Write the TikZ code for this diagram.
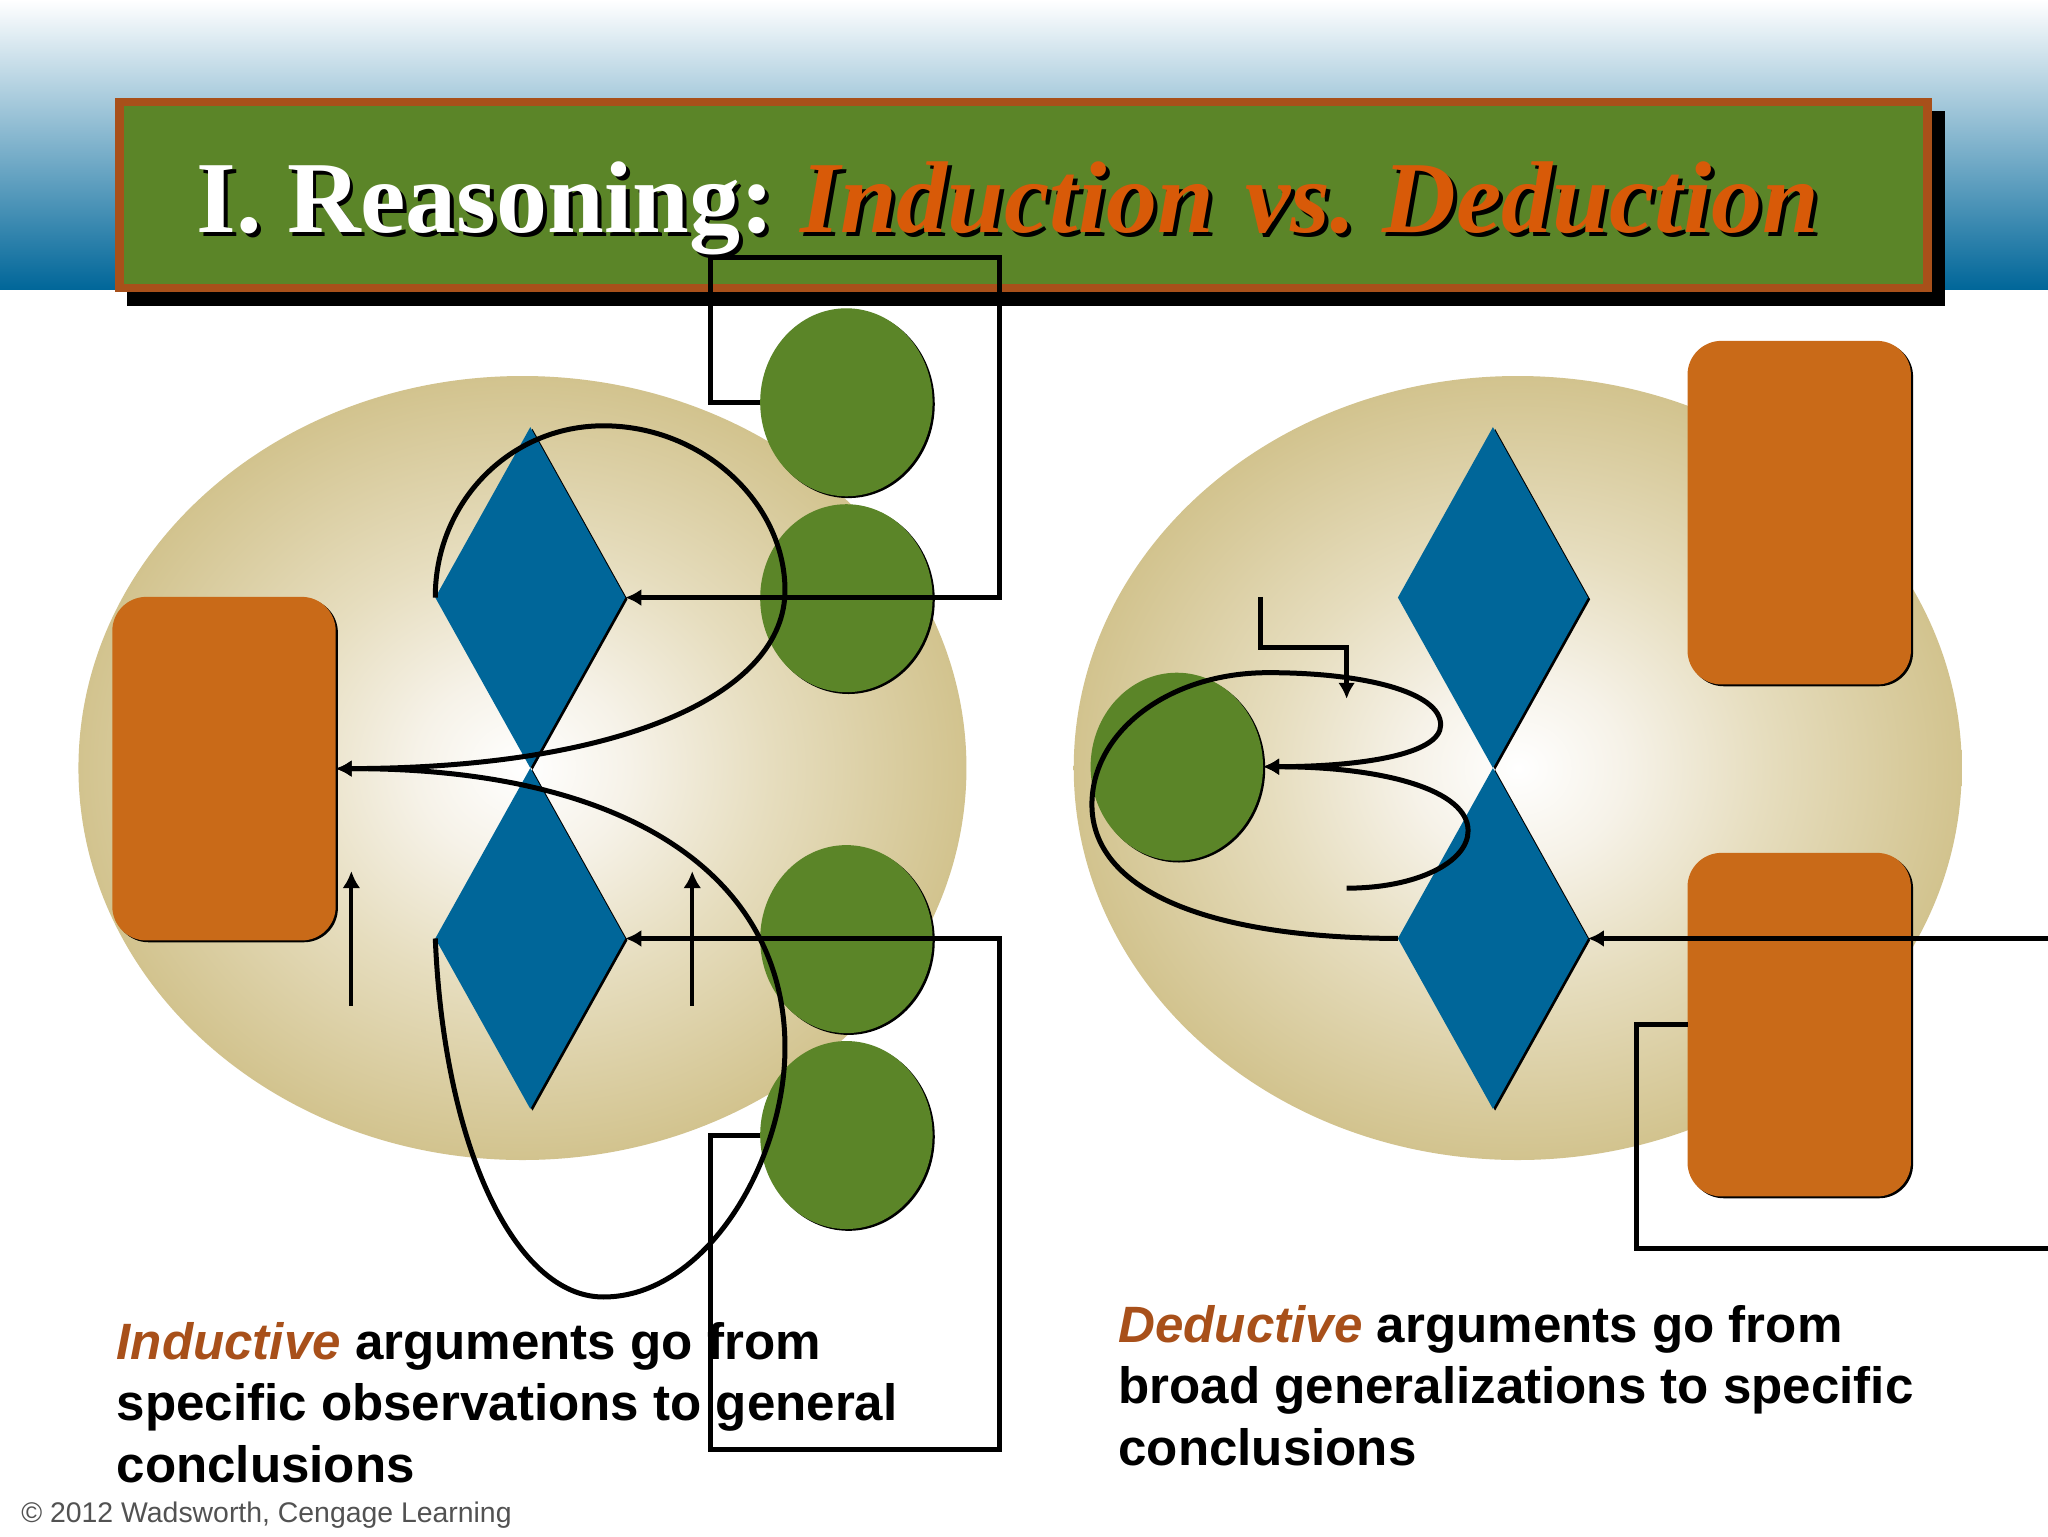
\documentclass[tikz,border=0pt]{standalone}
\usepackage{fontspec}
\setmainfont{Liberation Sans}
\newfontfamily\serifttl{Liberation Serif}
\usetikzlibrary{shapes.geometric,shadows,arrows.meta}
\definecolor{grn}{HTML}{5B8528}
\definecolor{rust}{HTML}{A8501A}
\definecolor{ttlorange}{HTML}{D85A08}
\definecolor{bluefill}{HTML}{006699}
\definecolor{orangefill}{HTML}{C96A18}
\definecolor{sand}{HTML}{D2C38E}
\definecolor{sandmid}{HTML}{E6DDBE}
\definecolor{sandlow}{HTML}{F6F2E8}
\pgfdeclareradialshading{sandglow}{\pgfpointorigin}{color(0bp)=(white); color(6bp)=(sandlow); color(14bp)=(sandmid); color(25bp)=(sand); color(50bp)=(sand)}
\newcommand{\shadowed}[2]{\leavevmode\rlap{\kern2pt\raisebox{-2pt}{\color{black}#2}}{\color{#1}#2}}
\tikzset{
  x=0.65306pt,y=-0.65306pt,
  thinshadow/.style={general shadow={shadow xshift=1.1pt,shadow yshift=-0.9pt,fill=black}},
  glow/.style={ellipse,inner sep=0pt,outer sep=0pt,minimum width=444pt,minimum height=392pt,shading=sandglow},
  circ/.style={ellipse,inner sep=0pt,outer sep=0pt,minimum width=86.2pt,minimum height=94pt,fill=grn,thinshadow},
  gem/.style={diamond,inner sep=0pt,outer sep=0pt,minimum width=95pt,minimum height=170.4pt,fill=bluefill,thinshadow},
  block/.style={rectangle,transform shape,xscale=0.73,rounded corners=17pt,inner sep=0pt,outer sep=0pt,minimum width=153pt,minimum height=171.8pt,fill=orangefill,thinshadow},
  wire/.style={line width=2.5pt,black},
  wirearrow/.style={wire,-{Latex[length=8pt,width=8.5pt]}},
  thinarrow/.style={line width=2.1pt,black,-{Latex[length=8.5pt,width=9pt]}},
  ttl/.style={anchor=base west,inner sep=0pt,font=\serifttl\bfseries\fontsize{51}{60}\selectfont},
  body/.style={anchor=north west,inner sep=0pt,align=left,font=\bfseries\fontsize{25.55}{30.7}\selectfont},
}
\begin{document}
\begin{tikzpicture}
\useasboundingbox (0,0) rectangle (1568,1176);
\clip (0,0) rectangle (1568,1176);
\fill[white] (0,0) rectangle (1568,1176);
\shade[top color=white,bottom color=bluefill] (0,0) rectangle (1568,222);
% banner
\fill[black] (97,85) rectangle (1489,234);
\node[rectangle,draw=rust,line width=4.2pt,fill=grn,inner sep=0pt,outer sep=0pt,minimum width=904pt,minimum height=93pt] (banner) at (783.5,149.5) {};
% title
\node[ttl] (title) at (150,178) {\shadowed{white}{I. Reasoning:}\hspace{-4pt} \shadowed{ttlorange}{\itshape Induction\hspace{3pt} vs.\hspace{-3.7pt} Deduction}};
% backdrops
\node[glow] (glowL) at (400,588) {};
\node[glow] (glowR) at (1162,588) {};
% diamonds
\node[gem] (dA) at (406,457.5) {};
\node[gem] (dB) at (406,718.5) {};
\node[gem] (dC) at (1143,457.5) {};
\node[gem] (dD) at (1143,718.5) {};
% circles
\node[circ] (cA) at (648,308) {};
\node[circ] (cB) at (648,458) {};
\node[circ] (cC) at (648,719) {};
\node[circ] (cD) at (648,869) {};
\node[circ] (cE) at (901,587) {};
% blocks
\node[block] (bL) at (171.5,588.5) {};
\node[block] (bR) at (1377.5,392.5) {};
\node[block] (bS) at (1377.5,784.5) {};
% free ends
\coordinate (a1) at (269,770); \coordinate (a2) at (269,667);
\coordinate (a3) at (530,770); \coordinate (a4) at (530,667);
\coordinate (e1) at (965,457); \coordinate (e2) at (1031,535);
\coordinate (f1) at (1031,680);
\coordinate (g1) at (1575,718.5); \coordinate (g2) at (1575,956);
% left connectors
\draw[wirearrow] (cA.west) -- (544,308) -- (544,197) -- (765,197) -- (765,457.5) -- (dA.east);
\draw[wirearrow] (dA.west) .. controls (333,385) and (390,326) .. (462,326) .. controls (538,326) and (601,385) .. (601,452) .. controls (601,530) and (480,588) .. (bL.east);
\draw[wirearrow] (dB.west) .. controls (340,880) and (395,993) .. (462,993) .. controls (540,993) and (601,890) .. (601,802) .. controls (601,670) and (480,588) .. (bL.east);
\draw[wirearrow] (cD.west) -- (544,869) -- (544,1110) -- (765,1110) -- (765,718.5) -- (dB.east);
\draw[thinarrow] (a1) -- (a2);
\draw[thinarrow] (a3) -- (a4);
% right connectors
\draw[wirearrow] (e1) -- (965,496) -- (1031,496) -- (e2);
\draw[wirearrow] (dD.west) .. controls (920,718) and (836,680) .. (836,616) .. controls (836,560) and (895,515) .. (971,515) .. controls (1045,515) and (1103,530) .. (1103,555) .. controls (1103,578) and (1040,587) .. (cE.east);
\draw[wirearrow] (f1) .. controls (1085,680) and (1124,660) .. (1124,636) .. controls (1124,605) and (1060,587) .. (cE.east);
\draw[wirearrow] (g1) -- (dD.east);
\draw[wire] (bS.west) -- (1253,784.5) -- (1253,956) -- (g2);
% text
\node[body] (txtL) at (89,1012) {{\itshape\color{rust}Inductive} arguments go from\\specific observations to general\\conclusions};
\node[body] (txtR) at (856,999) {{\itshape\color{rust}Deductive} arguments go from\\broad generalizations to specific\\conclusions};
\node[anchor=base west,inner sep=0pt,text=black!68,font=\fontsize{14.2}{17}\selectfont] (credit) at (16,1166) {© 2012 Wadsworth, Cengage Learning};
\end{tikzpicture}
\end{document}
